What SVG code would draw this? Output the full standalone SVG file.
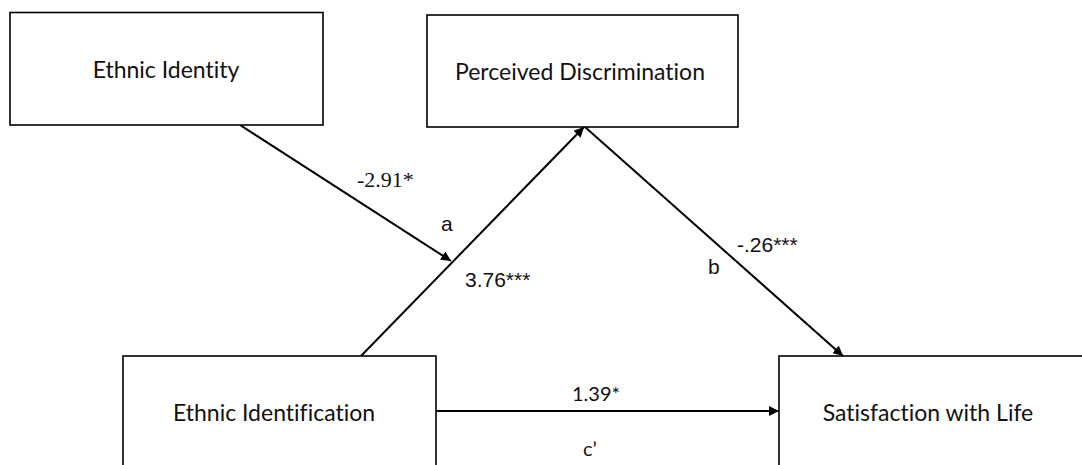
<svg xmlns="http://www.w3.org/2000/svg" width="1082" height="465" viewBox="0 0 1082 465">
<style>
.box{fill:#fff;stroke:#000;stroke-width:1.6}
.lbl{font-family:Lato,"Open Sans",sans-serif;font-size:23px;fill:#111;font-variant-ligatures:none}
.num{font-family:"Liberation Serif",serif;font-size:22px;fill:#111}
.sans{font-family:"Liberation Sans",Arial,sans-serif;font-size:21px;fill:#111}
.cal{font-family:Lato,"Open Sans",sans-serif;font-size:20px;fill:#111;font-variant-ligatures:none}
.conn{stroke:#000;stroke-width:2;fill:none;marker-end:url(#ah)}
</style>
<defs>
<marker id="ah" viewBox="0 0 10 10" refX="10" refY="5" markerWidth="5" markerHeight="5" orient="auto" markerUnits="strokeWidth">
<path d="M0,0 L10,5 L0,10 z" fill="#000"/>
</marker>
</defs>
<rect width="1082" height="465" fill="#fff"/>
<g id="connectors">
<line class="conn" x1="240" y1="125" x2="451" y2="261"/>
<line class="conn" x1="361" y1="356" x2="584" y2="127"/>
<line class="conn" x1="585" y1="127" x2="843" y2="356"/>
<line class="conn" x1="436" y1="411" x2="779" y2="411"/>
</g>
<g id="node-ethnic-identity">
<rect class="box" x="10" y="12.5" width="313" height="112.5"/>
<text class="lbl" x="166" y="78" text-anchor="middle">Ethnic Identity</text>
</g>
<g id="node-perceived-discrimination">
<rect class="box" x="427" y="15" width="311" height="112"/>
<text class="lbl" x="580" y="80" text-anchor="middle">Perceived Discrimination</text>
</g>
<g id="node-ethnic-identification">
<rect class="box" x="123" y="356" width="313" height="120"/>
<text class="lbl" x="274" y="421" text-anchor="middle">Ethnic Identification</text>
</g>
<g id="node-satisfaction">
<rect class="box" x="779" y="356" width="310" height="120"/>
<text class="lbl" x="928" y="421" text-anchor="middle">Satisfaction with Life</text>
</g>
<g id="labels">
<text class="num" x="357" y="187">-2.91*</text>
<text class="sans" x="441" y="231">a</text>
<text class="sans" x="465" y="287">3.76***</text>
<text class="sans" x="737" y="252">-.26***</text>
<text class="sans" x="708" y="274">b</text>
<text class="cal" x="572" y="401">1.39*</text>
<text class="cal" x="583" y="456">c’</text>
</g>
</svg>
